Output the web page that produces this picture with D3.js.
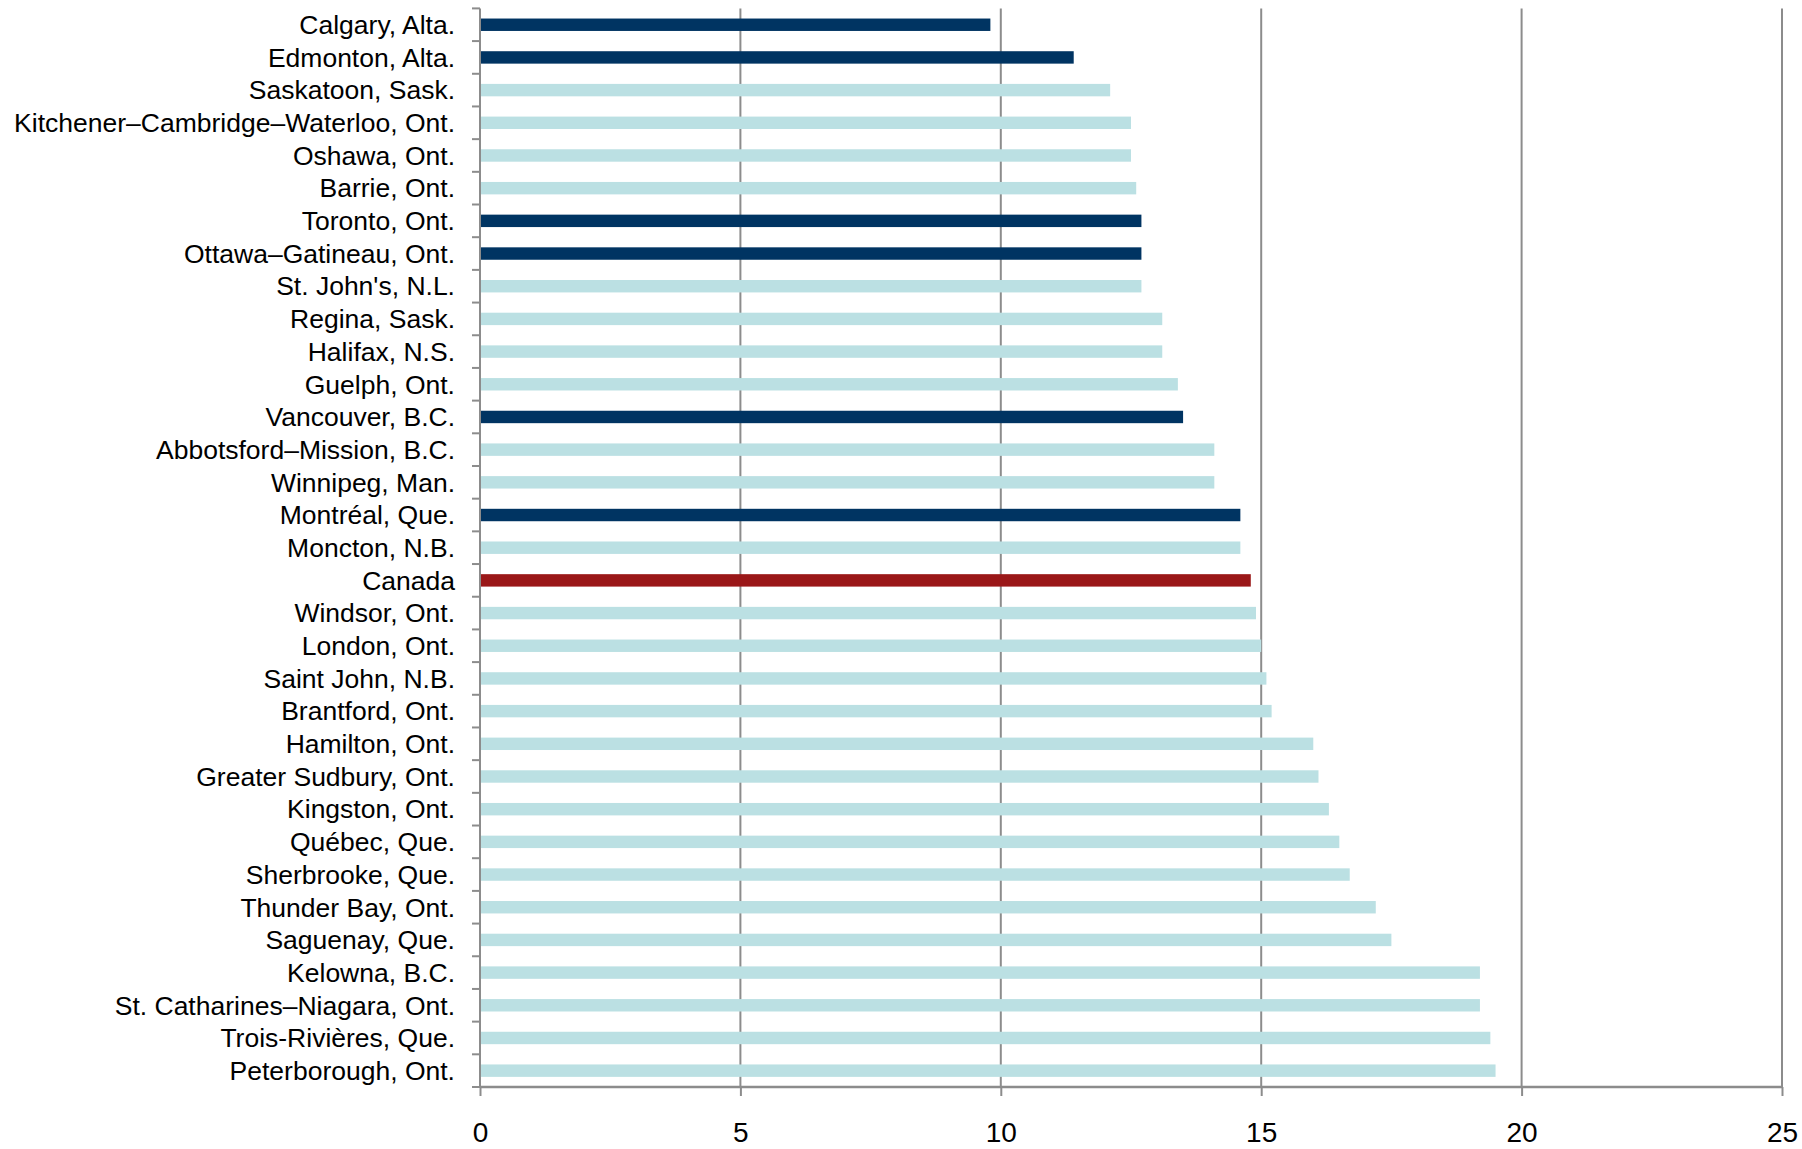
<!DOCTYPE html>
<html>
<head>
<meta charset="utf-8">
<script src="https://cdn.jsdelivr.net/npm/d3@7"></script>
<style>
  html, body { margin: 0; padding: 0; background: #fff; }
  svg { display: block; font-family: "Liberation Sans", Arial, sans-serif; }
</style>
</head>
<body>
<svg id="chart" width="1802" height="1149"></svg>
<script>
// Census metropolitan areas, top to bottom
const cities = [
  "Calgary, Alta.", "Edmonton, Alta.", "Saskatoon, Sask.",
  "Kitchener–Cambridge–Waterloo, Ont.", "Oshawa, Ont.", "Barrie, Ont.",
  "Toronto, Ont.", "Ottawa–Gatineau, Ont.", "St. John's, N.L.",
  "Regina, Sask.", "Halifax, N.S.", "Guelph, Ont.", "Vancouver, B.C.",
  "Abbotsford–Mission, B.C.", "Winnipeg, Man.", "Montréal, Que.",
  "Moncton, N.B.", "Canada", "Windsor, Ont.", "London, Ont.",
  "Saint John, N.B.", "Brantford, Ont.", "Hamilton, Ont.",
  "Greater Sudbury, Ont.", "Kingston, Ont.", "Québec, Que.",
  "Sherbrooke, Que.", "Thunder Bay, Ont.", "Saguenay, Que.",
  "Kelowna, B.C.", "St. Catharines–Niagara, Ont.",
  "Trois-Rivières, Que.", "Peterborough, Ont."
];

const values = [
  9.8, 11.4, 12.1,
  12.5, 12.5, 12.6,
  12.7, 12.7, 12.7,
  13.1, 13.1, 13.4, 13.5,
  14.1, 14.1, 14.6,
  14.6, 14.8, 14.9, 15.0,
  15.1, 15.2, 16.0,
  16.1, 16.3, 16.5,
  16.7, 17.2, 17.5,
  19.2, 19.2,
  19.4, 19.5
];

// "large" = six largest CMAs, "national" = Canada total, "other" = remaining CMAs
const groups = [
  "large", "large", "other",
  "other", "other", "other",
  "large", "large", "other",
  "other", "other", "other", "large",
  "other", "other", "large",
  "other", "national", "other", "other",
  "other", "other", "other",
  "other", "other", "other",
  "other", "other", "other",
  "other", "other",
  "other", "other"
];

const xTicks = [0, 5, 10, 15, 20, 25];

const groupColor = { large: "#003462", national: "#9a1718", other: "#bbe0e3" };

const svg = d3.select("#chart");
const plotLeft = 480, plotRight = 1782, plotTop = 8.4, plotBottom = 1087;

const x = d3.scaleLinear().domain([0, 25]).range([plotLeft, plotRight]);
const y = d3.scaleBand().domain(cities).range([plotTop, plotBottom])
  .paddingInner(0.62).paddingOuter(0.31);

const gridColor = "#8c8c8c";

// vertical gridlines
svg.append("g").selectAll("line")
  .data(xTicks.filter(d => d > 0))
  .join("line")
  .attr("x1", d => x(d)).attr("x2", d => x(d))
  .attr("y1", plotTop).attr("y2", plotBottom)
  .attr("stroke", gridColor).attr("stroke-width", 2);

// bars
svg.append("g").selectAll("rect")
  .data(cities.map((c, i) => ({ c, v: values[i], g: groups[i] })))
  .join("rect")
  .attr("x", x(0))
  .attr("y", d => y(d.c))
  .attr("width", d => x(d.v) - x(0))
  .attr("height", y.bandwidth())
  .attr("fill", d => groupColor[d.g]);

// x axis
const xAxis = svg.append("g")
  .attr("transform", `translate(0,${plotBottom})`)
  .call(d3.axisBottom(x).tickValues(xTicks).tickSize(9).tickPadding(26)
    .tickFormat(d3.format("d")));
xAxis.select(".domain").attr("stroke", gridColor).attr("stroke-width", 2.5)
  .attr("d", `M${plotLeft},0H${plotRight}`);
xAxis.selectAll(".tick line").attr("stroke", gridColor).attr("stroke-width", 2);
xAxis.selectAll(".tick text")
  .attr("font-size", 28).attr("fill", "#000")
  .attr("font-family", "Liberation Sans, Arial, sans-serif");

// y axis: line, tick marks at category boundaries, labels
const yAxis = svg.append("g");
yAxis.append("line")
  .attr("x1", plotLeft).attr("x2", plotLeft).attr("y1", plotTop).attr("y2", plotBottom)
  .attr("stroke", gridColor).attr("stroke-width", 2);
const step = y.step();
yAxis.selectAll("line.bound")
  .data(d3.range(cities.length + 1))
  .join("line").attr("class", "bound")
  .attr("x1", plotLeft - 8).attr("x2", plotLeft)
  .attr("y1", i => plotTop + i * step).attr("y2", i => plotTop + i * step)
  .attr("stroke", gridColor).attr("stroke-width", 2);
yAxis.selectAll("text")
  .data(cities)
  .join("text")
  .attr("x", plotLeft - 25)
  .attr("y", d => y(d) + y.bandwidth() / 2)
  .attr("dy", "0.35em")
  .attr("text-anchor", "end")
  .attr("font-size", 26.5)
  .attr("fill", "#000")
  .text(d => d);
</script>
</body>
</html>
